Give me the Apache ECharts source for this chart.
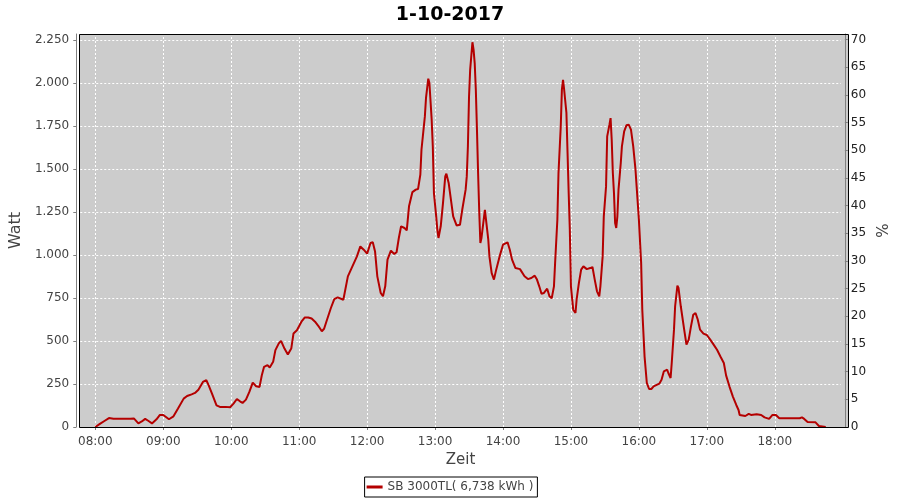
<!DOCTYPE html>
<html><head><meta charset="utf-8">
<script src="https://cdn.jsdelivr.net/npm/echarts@6/dist/echarts.min.js"></script>
<style>html,body{margin:0;padding:0;background:#fff}#c{width:900px;height:500px}</style>
</head><body><div id="c"></div>
<script>
const chartTitle = '1-10-2017';
const seriesName = 'SB 3000TL( 6,738 kWh )';
const xName = 'Zeit';
const yLeftName = 'Watt';
const yRightName = '%';
const xRange = ['07:46:40', '18:58:20'];
const yLeftRange = [0, 2285];
const yRightRange = [0, 71];
const xTickLabels = ['08:00','09:00','10:00','11:00','12:00','13:00','14:00','15:00','16:00','17:00','18:00'];
const yLeftTicks = [0,250,500,750,1000,1250,1500,1750,2000,2250];

const times = [
'08:00','08:04','08:08','08:12','08:16','08:20','08:25','08:31','08:34','08:38','08:41','08:44','08:47','08:50','08:54','08:57',
'09:00','09:05','09:09','09:13','09:18','09:21','09:25','09:28','09:31','09:35','09:38','09:40','09:43','09:47','09:50','09:55','09:59',
'10:02','10:05','10:08','10:10','10:13','10:16','10:19','10:22','10:25','10:27','10:29','10:32','10:34','10:37','10:39','10:42','10:44','10:47','10:50','10:53','10:55','10:58',
'11:02','11:05','11:08','11:11','11:14','11:17','11:20','11:22','11:24','11:28','11:31','11:34','11:39','11:43','11:47','11:51','11:54','11:57',
'12:00','12:03','12:05','12:07','12:09','12:12','12:14','12:16','12:18','12:21','12:24','12:26','12:28','12:30','12:33','12:35','12:37','12:40','12:43','12:45','12:47','12:48','12:51','12:52','12:54','12:55','12:57','12:58','12:59',
'13:01','13:02','13:03','13:05','13:07','13:09','13:10','13:12','13:14','13:16','13:19','13:22','13:24','13:27','13:28','13:29','13:30','13:31','13:33','13:34','13:35','13:36','13:37','13:38','13:39','13:40','13:41','13:42','13:44','13:45','13:47','13:48','13:50','13:52','13:54','13:57',
'14:00','14:04','14:06','14:08','14:11','14:15','14:19','14:22','14:25','14:28','14:30','14:32','14:34','14:36','14:39','14:41','14:43','14:45','14:46','14:48','14:49','14:51','14:52','14:53','14:54','14:56','14:57','14:58','14:59',
'15:00','15:02','15:04','15:05','15:07','15:09','15:11','15:14','15:17','15:19','15:21','15:23','15:25','15:26','15:28','15:29','15:31','15:32','15:34','15:35','15:36','15:37','15:38','15:39','15:40','15:41','15:42','15:44','15:45','15:47','15:49','15:51','15:53','15:55','15:57','15:58',
'16:00','16:02','16:03','16:05','16:07','16:09','16:11','16:13','16:18','16:20','16:22','16:25','16:26','16:28','16:29','16:31','16:32','16:34','16:35','16:37','16:40','16:42','16:44','16:46','16:48','16:50','16:52','16:54','16:57',
'17:00','17:03','17:06','17:09','17:12','17:15','17:17','17:20','17:23','17:26','17:28','17:29','17:34','17:37','17:39','17:44','17:48','17:51','17:55','17:58',
'18:01','18:04','18:13','18:22','18:24','18:26','18:29','18:36','18:39','18:45'
];
const watts = [
0,18,35,52,48,48,48,48,50,21,32,47,35,21,45,70,
70,45,62,107,165,180,190,198,217,262,272,243,194,126,117,117,115,
136,163,148,140,159,204,258,237,233,301,350,360,346,379,447,486,501,456,421,456,544,563,
612,637,637,631,612,587,557,571,612,692,744,754,740,876,934,992,1050,1031,
1008,1070,1074,1021,876,779,760,818,973,1025,1006,1016,1099,1167,1157,1143,1283,1366,1380,1384,1467,1612,1806,1913,2025,2000,1787,1632,1360,
1225,1147,1099,1167,1302,1457,1473,1419,1322,1225,1172,1176,1263,1380,1457,1632,1922,2078,2237,2194,2116,1961,1729,1477,1254,1070,1099,1109,1263,1273,1089,992,895,857,915,992,
1060,1074,1031,973,924,918,876,860,866,880,857,818,775,779,804,760,748,818,953,1205,1477,1748,1961,2019,1961,1826,1593,1360,1147,
818,682,663,740,837,915,934,918,924,930,857,789,760,818,992,1225,1399,1690,1758,1796,1670,1477,1360,1186,1157,1225,1380,1535,1632,1719,1754,1758,1729,1632,1496,1399,
1205,953,682,411,256,221,221,236,252,275,323,333,314,285,372,566,702,822,808,702,566,479,508,585,653,663,624,566,543,
535,508,479,449,410,372,300,235,177,128,99,70,64,76,70,74,70,56,47,70,
70,51,51,51,56,47,29,27,6,0
];

function toH(s){const p=s.split(':').map(Number);return p[0]+p[1]/60+(p[2]||0)/3600;}
function pad(n){return (n<10?'0':'')+n;}
function fmtTime(v){const h=Math.floor(v+1e-6);const m=Math.round((v-h)*60);return pad(h)+':'+pad(m);}
function fmtW(v){v=Math.round(v);if(v>=1000){return Math.floor(v/1000)+'.'+String(v%1000).padStart(3,'0');}return String(v);}

const FONT = 'DejaVu Sans';
const axisGray = '#808080';
const labelColor = '#444444';
const G = {left: 79, right: 52, top: 34, bottom: 73};
const PW = 900 - G.left - G.right, PH = 500 - G.top - G.bottom;

const gridMarks = xTickLabels.map(t => ({xAxis: toH(t)}))
  .concat(yLeftTicks.filter(v => v > 0).map(v => ({yAxis: v})));

const chart = echarts.init(document.getElementById('c'), null, {renderer:'canvas'});
chart.setOption({
  animation: false,
  backgroundColor: '#ffffff',
  title: {text: chartTitle, left: 'center', top: 1,
    textStyle: {fontFamily: FONT, fontSize: 19, fontWeight: 'bold', color: '#000'}},
  grid: {left: G.left, right: G.right, top: G.top, bottom: G.bottom, show: false},
  graphic: [
    {type: 'rect', silent: true, z: -10,
      shape: {x: G.left, y: G.top, width: PW, height: PH},
      style: {fill: '#cccccc', stroke: null}},
    {type: 'rect', silent: true, z: 100,
      shape: {x: G.left + 0.5, y: G.top + 0.5, width: PW, height: PH},
      style: {fill: null, stroke: '#000000', lineWidth: 1}}
  ],
  legend: {data: [seriesName], left: 'center', top: 477,
    borderColor: '#000', borderWidth: 1, borderRadius: 0, padding: [4,4,4,2],
    itemWidth: 16, itemHeight: 3, itemGap: 10, icon: 'rect',
    textStyle: {fontFamily: FONT, fontSize: 12, color: labelColor}},
  xAxis: {type: 'value', min: toH(xRange[0]), max: toH(xRange[1]), splitNumber: 11,
    minInterval: 1, maxInterval: 1, offset: 4,
    name: xName, nameLocation: 'middle', nameGap: 22,
    nameTextStyle: {fontFamily: FONT, fontSize: 15, color: labelColor},
    axisLine: {show: true, lineStyle: {color: axisGray, width: 1}},
    axisTick: {show: true, length: 3, lineStyle: {color: axisGray}},
    axisLabel: {fontFamily: FONT, fontSize: 12, color: labelColor, margin: 5,
      showMinLabel: false, showMaxLabel: false, formatter: fmtTime},
    splitLine: {show: false}, splitArea: {show: false}},
  yAxis: [
    {type: 'value', position: 'left', min: yLeftRange[0], max: yLeftRange[1], interval: 250, offset: 4,
      name: yLeftName, nameLocation: 'middle', nameGap: 44, nameRotate: 90,
      nameTextStyle: {fontFamily: FONT, fontSize: 16, color: labelColor},
      axisLine: {show: true, lineStyle: {color: axisGray, width: 1}},
      axisTick: {show: true, length: 3, lineStyle: {color: axisGray}},
      axisLabel: {fontFamily: FONT, fontSize: 12, color: labelColor, margin: 7,
        showMaxLabel: false, formatter: fmtW},
      splitLine: {show: false}, splitArea: {show: false}},
    {type: 'value', position: 'right', min: yRightRange[0], max: yRightRange[1], interval: 5, offset: 4,
      name: yRightName, nameLocation: 'middle', nameGap: 30, nameRotate: 90,
      nameTextStyle: {fontFamily: FONT, fontSize: 15, color: labelColor},
      axisLine: {show: true, lineStyle: {color: axisGray, width: 1}},
      axisTick: {show: true, length: 3, lineStyle: {color: axisGray}},
      axisLabel: {fontFamily: FONT, fontSize: 12, color: '#222', margin: 6,
        showMaxLabel: false},
      splitLine: {show: false}, splitArea: {show: false}}
  ],
  series: [
    {name: 'grid', type: 'line', z: 1, data: [], silent: true,
      markLine: {z: 1, silent: true, symbol: ['none','none'], label: {show: false},
        lineStyle: {color: '#ffffff', type: [2,2], width: 1}, emphasis: {disabled: true},
        data: gridMarks}},
    {name: seriesName, type: 'line', yAxisIndex: 0, xAxisIndex: 0, z: 5,
      showSymbol: false, symbol: 'none',
      lineStyle: {color: '#b40000', width: 2}, itemStyle: {color: '#b40000'},
      data: times.map((t, i) => [toH(t), watts[i]])}
  ]
});
</script></body></html>
